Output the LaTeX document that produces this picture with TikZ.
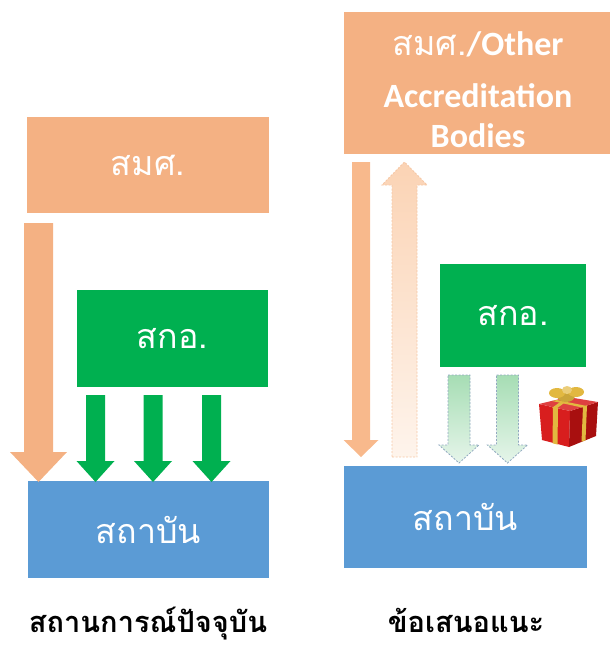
\documentclass[tikz,border=0pt]{standalone}
\usepackage{fontspec}
\newfontfamily\thai[Script=Thai]{Loma}
\newfontfamily\eng{Carlito}
\definecolor{orng}{HTML}{F4B183}
\definecolor{orngB}{HTML}{F8B98C}
\definecolor{grn}{HTML}{00B050}
\definecolor{blu}{HTML}{5B9BD5}
\definecolor{upTop}{HTML}{FBD3B4}
\definecolor{upBot}{HTML}{FEF4EC}
\definecolor{upLine}{HTML}{F6C7A4}
\definecolor{gTop}{HTML}{A6DDB4}
\definecolor{gBot}{HTML}{E6F5EA}
\definecolor{gLine}{HTML}{90A8C0}
\definecolor{giftred}{HTML}{D81E1E}
\definecolor{giftdark}{HTML}{A80F0F}
\definecolor{gold}{HTML}{E2B840}
\newcommand\blkarrow[7]{%
  \path[#7] ({#1-#2},#4) -- ({#1+#2},#4) -- ({#1+#2},#5) -- ({#1+#3},#5) -- (#1,#6)
    -- ({#1-#3},#5) -- ({#1-#2},#5) -- cycle;}
\tikzset{
  boxbase/.style={inner sep=0pt, text=white, font=\thai\fontsize{34}{40}\selectfont},
  obox/.style={boxbase, fill=orng},
  gbox/.style={boxbase, fill=grn},
  bbox/.style={boxbase, fill=blu},
  caption/.style={font=\thai\bfseries\fontsize{29}{34}\selectfont, text=black, inner sep=0pt},
  otext/.style={text=white, inner sep=0pt, font=\eng\bfseries\fontsize{34}{40}\selectfont},
  solidorange/.style={fill=orng},
  solidorangeB/.style={fill=orngB},
  solidgreen/.style={fill=grn},
  fadeup/.style={top color=upTop, bottom color=upBot, draw=upLine, line width=0.9pt, dash pattern=on 2pt off 1.5pt},
  fadegreen/.style={top color=gTop, bottom color=gBot, draw=gLine, line width=0.8pt, dash pattern=on 2pt off 1.5pt},
}
\begin{document}
\begin{tikzpicture}[x=1pt,y=-1pt]
\useasboundingbox (0,0) rectangle (610,645);
% ---- left: current situation
\node[obox, minimum width=242pt, minimum height=96pt] (smsL) at (148,165) {สมศ.};
\node[gbox, minimum width=191pt, minimum height=97pt] (skaL) at (172.5,338.5) {สกอ.};
\node[bbox, minimum width=241pt, minimum height=97pt] (instL) at (148.5,529.5) {สถาบัน};
\blkarrow{38.5}{14.5}{28.5}{223}{452}{482}{solidorange}
\blkarrow{95.5}{9.5}{19}{395}{461}{482}{solidgreen}
\blkarrow{153}{9.5}{19}{395}{461}{482}{solidgreen}
\blkarrow{211.5}{9.5}{19}{395}{461}{482}{solidgreen}
\node[caption, anchor=base] (capL) at (148,632) {สถานการณ์ปัจจุบัน};
% ---- right: proposal
\node[obox, minimum width=266pt, minimum height=142pt] (smsR) at (477,83) {};
\node[otext, anchor=base] (t1) at (478,55) {{\thai\mdseries สมศ.}/Other};
\node[otext, anchor=base] (t2) at (478,107) {Accreditation};
\node[otext, anchor=base] (t3) at (478,147) {Bodies};
\node[gbox, minimum width=146pt, minimum height=103pt] (skaR) at (513,315.5) {สกอ.};
\node[bbox, minimum width=243pt, minimum height=102pt] (instR) at (465.5,517) {สถาบัน};
\blkarrow{361}{9}{17.5}{162}{440}{457}{solidorangeB}
\blkarrow{404.5}{12.5}{22.5}{457}{185}{162}{fadeup}
\blkarrow{459}{11}{20}{375}{445}{463}{fadegreen}
\blkarrow{507.5}{11}{20}{375}{445}{463}{fadegreen}
\node[caption, anchor=base] (capR) at (466,632) {ข้อเสนอแนะ};
% ---- gift
\fill[giftred] (539,404) -- (570,411) -- (569,447) -- (542,440) -- cycle;
\fill[giftdark] (570,411) -- (598,402) -- (596,436) -- (569,447) -- cycle;
\fill[giftred!85!white] (539,404) -- (568,397) -- (598,402) -- (570,411) -- cycle;
\fill[gold] (553,407) -- (558,408.2) -- (557.5,444.5) -- (552.5,443.3) -- cycle;
\fill[gold] (583,406.6) -- (587,405.4) -- (585.5,440.3) -- (581.5,441.8) -- cycle;
\fill[gold] (552,401) -- (557,400) -- (587,406) -- (582,407.5) -- cycle;
\fill[gold] (568,396.5) -- (572,397.2) -- (556,409) -- (552,407.8) -- cycle;
\fill[gold!90!black] (566,396) ellipse [x radius=9pt, y radius=6pt];
\fill[gold] (557,393) ellipse [x radius=8pt, y radius=5pt];
\fill[gold] (576,392) ellipse [x radius=8pt, y radius=5pt];
\fill[gold!70!white] (567,390) ellipse [x radius=5pt, y radius=4pt];
\end{tikzpicture}
\end{document}
